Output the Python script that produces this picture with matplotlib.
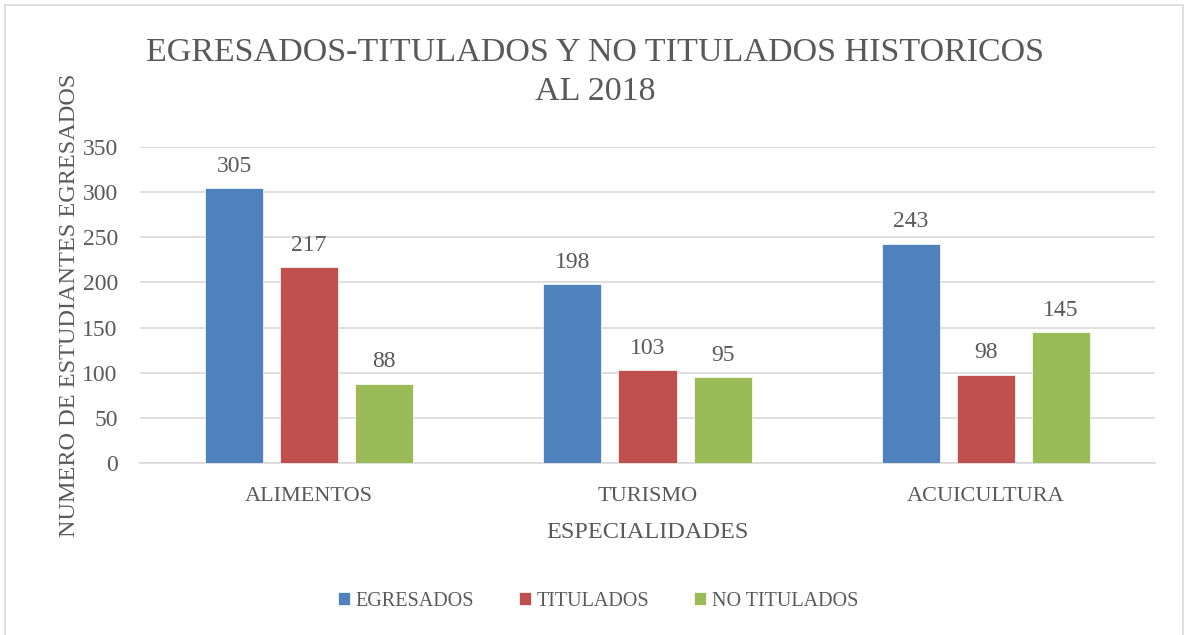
import matplotlib
matplotlib.use("Agg")
from matplotlib import pyplot as plt
from matplotlib.patches import Rectangle
import numpy as np

categories = ["ALIMENTOS", "TURISMO", "ACUICULTURA"]
series = ["EGRESADOS", "TITULADOS", "NO TITULADOS"]
egresados = [305, 198, 243]
titulados = [217, 103, 98]
no_titulados = [88, 95, 145]
colors = ["#4F81BD", "#C0504D", "#9BBB59"]

plt.rcParams['font.family'] = ['Liberation Serif', 'DejaVu Serif']
text_color = "#595959"

fig = plt.figure(figsize=(11.86, 6.35), dpi=100)
ax = fig.add_axes([140 / 1186, 1 - 463 / 635, 1015 / 1186, 316 / 635])

# chart frame
fig.patches.append(Rectangle((5 / 1186, -0.01), 1178 / 1186, 1 - 5 / 635 + 0.01,
                             transform=fig.transFigure, fill=False,
                             edgecolor="#D9D9D9", linewidth=1.2))

x = np.arange(len(categories))
width = 0.172
step = 0.222
for i, (name, vals) in enumerate(zip(series, [egresados, titulados, no_titulados])):
    pos = x + (i - 1) * step
    bars = ax.bar(pos, vals, width, color=colors[i], label=name, zorder=3,
                  edgecolor="white", linewidth=0.5)
    for b, v in zip(bars, vals):
        ax.annotate(str(v), xy=(b.get_x() + b.get_width() / 2, v),
                    xytext=(0, 8), textcoords="offset points",
                    ha="center", va="bottom", fontsize=17, color=text_color)

ax.set_xlim(-0.5, 2.5)
ax.set_ylim(0, 350)
ax.set_yticks(range(0, 351, 50))
ax.set_xticks(x)
ax.set_xticklabels(categories, fontsize=16)
ax.yaxis.grid(True, color="#D9D9D9", linewidth=1.2, zorder=0)
ax.set_axisbelow(True)
for s in ["top", "right", "left"]:
    ax.spines[s].set_visible(False)
ax.spines["bottom"].set_color("#D9D9D9")
ax.spines["bottom"].set_linewidth(1.2)
ax.tick_params(axis="both", length=0, colors=text_color)
ax.tick_params(axis="y", labelsize=17, pad=16)
ax.tick_params(axis="x", pad=17)

ax.set_xlabel("ESPECIALIDADES", fontsize=17.5, color=text_color, labelpad=12)
ax.set_ylabel("NUMERO DE ESTUDIANTES EGRESADOS", fontsize=17.5, color=text_color, labelpad=2)

fig.text(595 / 1186, 1 - 72 / 635, "EGRESADOS-TITULADOS Y NO TITULADOS HISTORICOS\nAL 2018",
         ha="center", va="center", fontsize=24.5, color=text_color, linespacing=1.35)

fig.legend(loc="center", bbox_to_anchor=(598 / 1186, 1 - 601 / 635), ncol=3,
           frameon=False, fontsize=14.5, labelcolor=text_color,
           handlelength=0.6, handleheight=0.6, handletextpad=0.3, columnspacing=2.2)

fig.savefig("out.png", dpi=100)
